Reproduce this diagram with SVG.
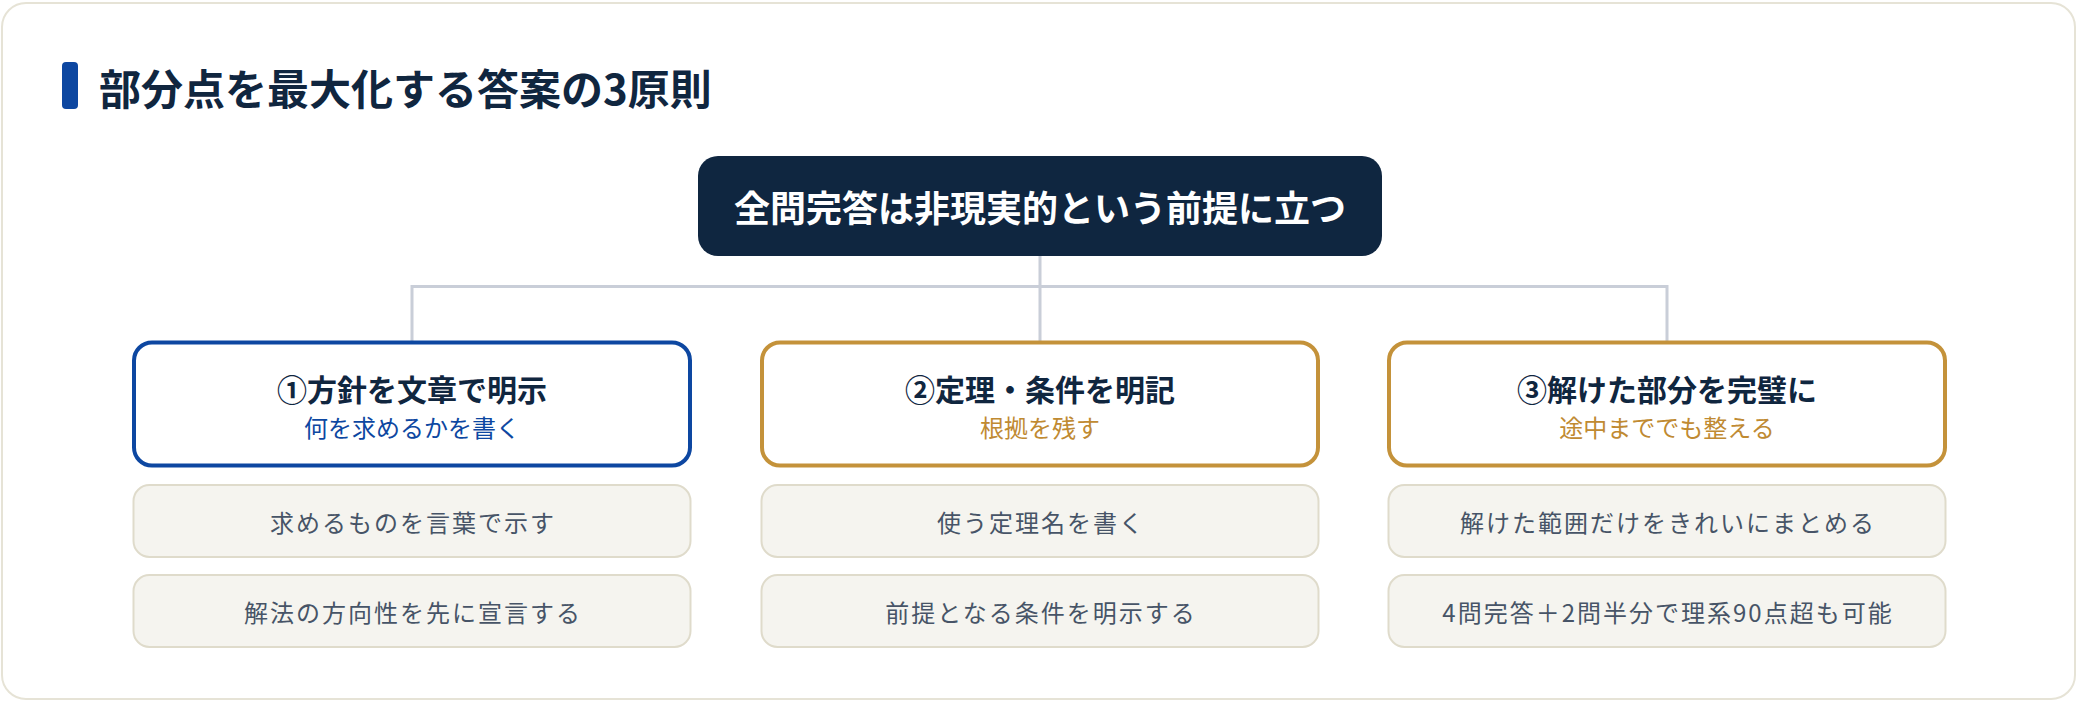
<svg xmlns="http://www.w3.org/2000/svg" width="2080" height="702" viewBox="0 0 2080 702">
<style>
text{font-family:"Noto Sans CJK JP","Noto Sans",sans-serif}
.title{font-size:42px;font-weight:700;fill:#10263f}
.root{font-size:36px;font-weight:700;fill:#ffffff}
.ptitle{font-size:30px;font-weight:700;fill:#10263f}
.psub{font-size:24px;font-weight:400}
.detail{font-size:24px;font-weight:400;fill:#475467;letter-spacing:2px}
.dbox{fill:#f5f4ef;stroke:#dfdbcb;stroke-width:2}
.conn{fill:none;stroke:#c9ced8;stroke-width:3}
</style>
<rect x="0" y="0" width="2080" height="702" fill="#ffffff"/>
<rect x="2" y="3" width="2073" height="696" rx="24" fill="#ffffff" stroke="#e6e3d6" stroke-width="2"/>
<g id="heading">
<rect x="62" y="62" width="16" height="47" rx="4" fill="#0d47a1"/>
<text class="title" x="99" y="105">部分点を最大化する答案の3原則</text>
</g>
<g id="connectors">
<path class="conn" d="M1040 256 V286.5 M412 341 V286.5 H1667 V341 M1040 286.5 V341"/>
</g>
<g id="root">
<rect x="698" y="156" width="684" height="100" rx="20" fill="#0f2640"/>
<text class="root" x="1040" y="222" text-anchor="middle">全問完答は非現実的という前提に立つ</text>
</g>
<g id="p1">
<rect x="134" y="342.5" width="556" height="123" rx="18" fill="#ffffff" stroke="#0d47a1" stroke-width="4"/>
<text class="ptitle" x="412" y="401" text-anchor="middle">①方針を文章で明示</text>
<text class="psub" x="412" y="436.5" text-anchor="middle" fill="#0d47a1">何を求めるかを書く</text>
</g>
<g id="p2">
<rect x="762" y="342.5" width="556" height="123" rx="18" fill="#ffffff" stroke="#c4923a" stroke-width="4"/>
<text class="ptitle" x="1040" y="401" text-anchor="middle">②定理・条件を明記</text>
<text class="psub" x="1040" y="436.5" text-anchor="middle" fill="#c08a32">根拠を残す</text>
</g>
<g id="p3">
<rect x="1389" y="342.5" width="556" height="123" rx="18" fill="#ffffff" stroke="#c4923a" stroke-width="4"/>
<text class="ptitle" x="1667" y="401" text-anchor="middle">③解けた部分を完璧に</text>
<text class="psub" x="1667" y="436.5" text-anchor="middle" fill="#c08a32">途中まででも整える</text>
</g>
<g id="d1a">
<rect class="dbox" x="133.5" y="485" width="557" height="72" rx="16"/>
<text class="detail" x="413" y="531.5" text-anchor="middle">求めるものを言葉で示す</text>
</g>
<g id="d1b">
<rect class="dbox" x="133.5" y="575" width="557" height="72" rx="16"/>
<text class="detail" x="413" y="621.5" text-anchor="middle">解法の方向性を先に宣言する</text>
</g>
<g id="d2a">
<rect class="dbox" x="761.5" y="485" width="557" height="72" rx="16"/>
<text class="detail" x="1041" y="531.5" text-anchor="middle">使う定理名を書く</text>
</g>
<g id="d2b">
<rect class="dbox" x="761.5" y="575" width="557" height="72" rx="16"/>
<text class="detail" x="1041" y="621.5" text-anchor="middle">前提となる条件を明示する</text>
</g>
<g id="d3a">
<rect class="dbox" x="1388.5" y="485" width="557" height="72" rx="16"/>
<text class="detail" x="1668" y="531.5" text-anchor="middle">解けた範囲だけをきれいにまとめる</text>
</g>
<g id="d3b">
<rect class="dbox" x="1388.5" y="575" width="557" height="72" rx="16"/>
<text class="detail" x="1668" y="621.5" text-anchor="middle">4問完答＋2問半分で理系90点超も可能</text>
</g>
</svg>
